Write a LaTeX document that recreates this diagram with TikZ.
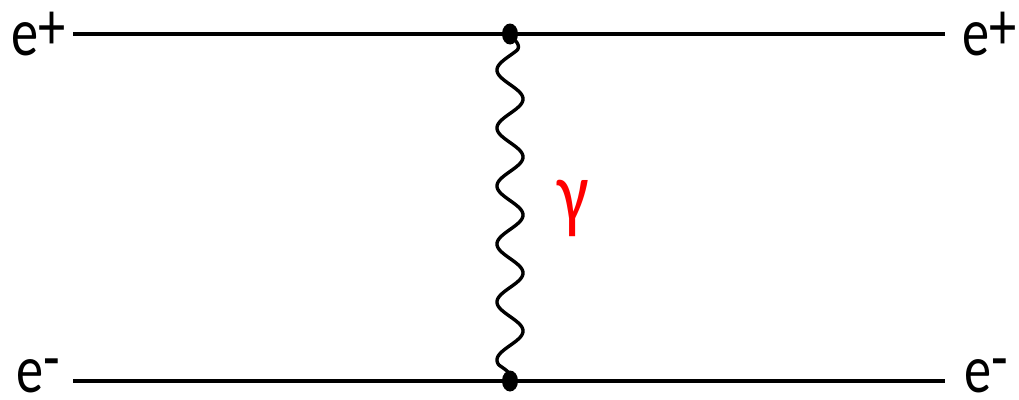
\documentclass[tikz,border=0pt]{standalone}
\usepackage{fontspec}
\newfontfamily\lblfont{Carlito}
\usetikzlibrary{shapes.geometric}
\tikzset{
	fermion/.style={line width=3.8pt},
	photon/.style={line width=3.4pt, line join=round},
	vertex/.style={shape=ellipse, fill=black, inner sep=0pt, minimum width=16pt, minimum height=21pt},
	particle/.style={anchor=base west, inner sep=0pt, font=\lblfont\fontsize{68pt}{70pt}\selectfont}
}
\newcommand{\posi}{\scalebox{0.8}[1]{e\raisebox{6pt}{+}}}
\newcommand{\elec}{\scalebox{0.8}[1]{e\raisebox{12pt}{-}}}

\begin{document}
\begin{tikzpicture}[x=1pt, y=-1pt]
		\useasboundingbox (0, 0) rectangle (1019, 399);
		\coordinate (A) at (73, 34);
		\coordinate (B) at (945, 34);
		\coordinate (C) at (73, 381);
		\coordinate (D) at (945, 381);
		\coordinate (V1) at (510, 34);
		\coordinate (V2) at (510, 381);

		\draw[fermion] (A) -- (V1) -- (B);
		\draw[fermion] (C) -- (V2) -- (D);
		% photon: sine wave from V1 down to V2
		\draw[photon, shift={(V1)}] plot[domain=0:347, samples=400, smooth]
			({-13*min(1, \x/16, (347-\x)/16)*sin(6.2069*(\x-21.5))}, {\x});
		\node[vertex] (W1) at (V1) {};
		\node[vertex] (W2) at (V2) {};

		\node[particle] (pinl) at (11, 55) {\posi};
		\node[particle] (pout) at (962, 55) {\posi};
		\node[particle] (einl) at (16, 392) {\elec};
		\node[particle] (eout) at (964, 392) {\elec};
		\node[particle, text=red, font=\lblfont\fontsize{88pt}{90pt}\selectfont] (gam) at (557, 222) {\scalebox{0.8}[1]{γ}};
	\end{tikzpicture}
\end{document}
